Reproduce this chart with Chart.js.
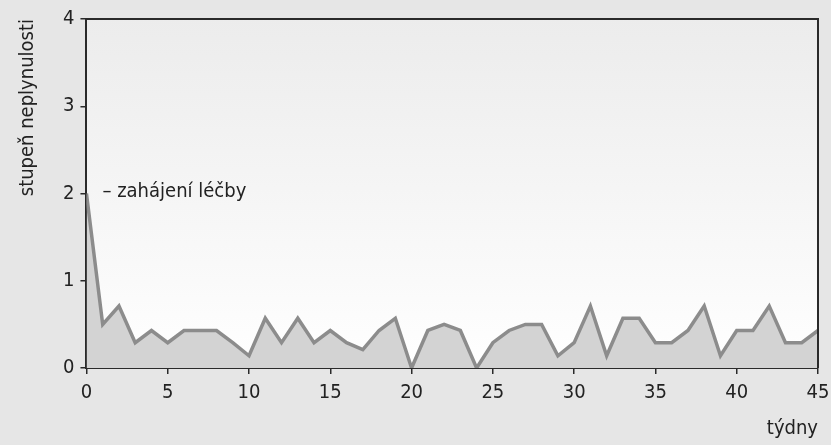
<!DOCTYPE html>
<html>
<head>
<meta charset="utf-8">
<script src="https://cdn.jsdelivr.net/npm/chart.js@4/dist/chart.umd.min.js"></script>
<style>
  html, body { margin: 0; padding: 0; background: #e6e6e6; }
  #wrap { width: 831px; height: 445px; }
</style>
</head>
<body>
<div id="wrap"><canvas id="graf" width="831" height="445"></canvas></div>
<script>
// týdny 0..45, stupeň neplynulosti (hodnoty po 1/7)
const tydny = [];
for (let i = 0; i <= 45; i++) tydny.push(i);
const stupen = [
  2, 0.5, 0.71, 0.29, 0.43, 0.29, 0.43, 0.43, 0.43, 0.29,
  0.14, 0.57, 0.29, 0.57, 0.29, 0.43, 0.29, 0.21, 0.43, 0.57,
  0, 0.43, 0.5, 0.43, 0, 0.29, 0.43, 0.5, 0.5, 0.14,
  0.29, 0.71, 0.14, 0.57, 0.57, 0.29, 0.29, 0.43, 0.71, 0.14,
  0.43, 0.43, 0.71, 0.29, 0.29, 0.43
];
const yTicky = [0, 1, 2, 3, 4];
const xTicky = [0, 5, 10, 15, 20, 25, 30, 35, 40, 45];
const popisek = "– zahájení léčby";

const pismo = "'DejaVu Sans Condensed', 'Liberation Sans Narrow', sans-serif";

// pozadí plochy grafu + rámeček + popisek
const pozadi = {
  id: "pozadi",
  beforeDraw(chart) {
    const { ctx, chartArea: a } = chart;
    ctx.save();
    ctx.fillStyle = "#e6e6e6";
    ctx.fillRect(0, 0, chart.width, chart.height);
    const g = ctx.createLinearGradient(0, a.top, 0, a.bottom);
    g.addColorStop(0, "#ececec");
    g.addColorStop(0.7, "#f9f9f9");
    g.addColorStop(1, "#ffffff");
    ctx.fillStyle = g;
    ctx.fillRect(a.left, a.top, a.right - a.left, a.bottom - a.top);
    ctx.restore();
  },
  afterDraw(chart) {
    const { ctx, chartArea: a, scales } = chart;
    ctx.save();
    ctx.strokeStyle = "#2a2a2a";
    ctx.lineWidth = 2;
    ctx.beginPath();
    ctx.moveTo(a.left, a.top);
    ctx.lineTo(a.right, a.top);
    ctx.lineTo(a.right, a.bottom);
    ctx.stroke();
    ctx.fillStyle = "#222";
    ctx.font = "20px " + pismo;
    ctx.textBaseline = "middle";
    ctx.fillText(popisek, scales.x.getPixelForValue(0) + 16, scales.y.getPixelForValue(2) - 2);
    ctx.restore();
  }
};

new Chart(document.getElementById("graf"), {
  type: "line",
  data: {
    datasets: [{
      data: tydny.map((t, i) => ({ x: t, y: stupen[i] })),
      borderColor: "#8c8c8c",
      borderWidth: 3.5,
      backgroundColor: "#d3d3d3",
      fill: "origin",
      pointRadius: 0,
      tension: 0,
    }],
  },
  options: {
    responsive: false,
    animation: false,
    layout: { autoPadding: false, padding: { top: 19, right: 13, left: 4, bottom: 2 } },
    plugins: { legend: { display: false }, tooltip: { enabled: false } },
    scales: {
      x: {
        type: "linear", min: 0, max: 45,
        afterBuildTicks: s => { s.ticks = xTicky.map(v => ({ value: v })); },
        // popisek "45" smí přečnívat do okraje
        afterFit: s => { s.paddingLeft = 0; s.paddingRight = 0; },
        grid: { drawOnChartArea: false, tickLength: 6, color: "#2a2a2a", lineWidth: 1.5 },
        border: { display: true, color: "#2a2a2a", width: 2 },
        ticks: { color: "#222", font: { size: 20, family: pismo }, padding: 7, maxRotation: 0 },
        title: { display: true, text: "týdny", align: "end", color: "#222",
                 font: { size: 20, family: pismo }, padding: { top: 5, bottom: 2 } },
      },
      y: {
        min: 0, max: 4,
        afterBuildTicks: s => { s.ticks = yTicky.map(v => ({ value: v })); },
        grid: { drawOnChartArea: false, tickLength: 6, color: "#2a2a2a", lineWidth: 1.5 },
        border: { display: true, color: "#2a2a2a", width: 2 },
        ticks: { color: "#222", font: { size: 20, family: pismo }, padding: 6 },
        title: { display: true, text: "stupeň neplynulosti", align: "end", color: "#222",
                 font: { size: 20, family: pismo }, padding: { top: 12, bottom: 17 } },
      },
    },
  },
  plugins: [pozadi],
});
</script>
</body>
</html>
